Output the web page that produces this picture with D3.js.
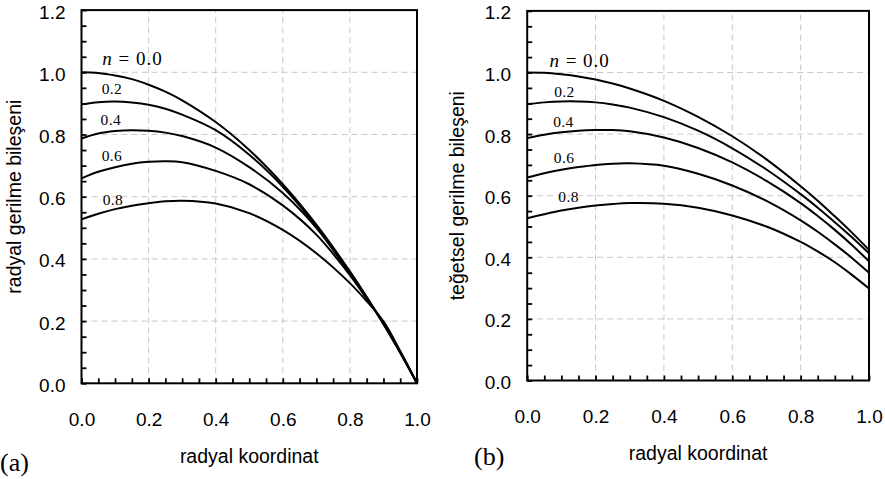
<!DOCTYPE html>
<html><head><meta charset="utf-8">
<script src="https://cdn.jsdelivr.net/npm/d3@7"></script>
<style>
html,body{margin:0;padding:0;background:#fff;}
svg{display:block;}
</style>
</head><body>
<svg id="chart" width="885" height="479"></svg>
<script>
// ---- data ----
const rValues = [0, 0.05, 0.1, 0.15, 0.2, 0.25, 0.3, 0.4, 0.5, 0.6, 0.7, 0.8, 0.85, 0.9, 0.95, 1.0];
const nLabels = ["0.0", "0.2", "0.4", "0.6", "0.8"];

const radialN00 = [1.000, 0.998, 0.990, 0.978, 0.960, 0.938, 0.910, 0.840, 0.750, 0.640, 0.510, 0.360, 0.278, 0.190, 0.098, 0.000];
const radialN02 = [0.897, 0.904, 0.906, 0.903, 0.896, 0.883, 0.864, 0.814, 0.735, 0.632, 0.505, 0.355, 0.276, 0.192, 0.099, 0.000];
const radialN04 = [0.787, 0.803, 0.811, 0.814, 0.812, 0.806, 0.795, 0.758, 0.695, 0.612, 0.500, 0.352, 0.274, 0.193, 0.100, 0.000];
const radialN06 = [0.659, 0.680, 0.695, 0.706, 0.712, 0.714, 0.711, 0.683, 0.640, 0.572, 0.478, 0.348, 0.272, 0.195, 0.101, 0.000];
const radialN08 = [0.527, 0.545, 0.560, 0.571, 0.579, 0.585, 0.587, 0.578, 0.547, 0.493, 0.418, 0.322, 0.264, 0.199, 0.104, 0.000];

const tangN00 = [1.000, 0.999, 0.994, 0.987, 0.977, 0.964, 0.948, 0.908, 0.856, 0.793, 0.718, 0.631, 0.584, 0.533, 0.480, 0.424];
const tangN02 = [0.897, 0.903, 0.906, 0.906, 0.903, 0.896, 0.886, 0.855, 0.811, 0.754, 0.685, 0.605, 0.561, 0.514, 0.465, 0.413];
const tangN04 = [0.787, 0.798, 0.806, 0.811, 0.813, 0.813, 0.809, 0.789, 0.755, 0.708, 0.648, 0.576, 0.534, 0.489, 0.440, 0.387];
const tangN06 = [0.659, 0.673, 0.684, 0.693, 0.700, 0.704, 0.705, 0.697, 0.671, 0.633, 0.583, 0.520, 0.483, 0.442, 0.398, 0.350];
const tangN08 = [0.527, 0.540, 0.552, 0.561, 0.568, 0.573, 0.576, 0.574, 0.561, 0.536, 0.500, 0.450, 0.419, 0.384, 0.343, 0.299];

const xTickLabels = [0, 0.2, 0.4, 0.6, 0.8, 1.0];
const yTickLabels = [0, 0.2, 0.4, 0.6, 0.8, 1.0, 1.2];
const gridX = [0.2, 0.4, 0.6, 0.8];
const gridY = [0.2, 0.4, 0.6, 0.8, 1.0];

// curve label anchors (data units: r, value)
const radialLabelPos = [[0.062, 1.023], [0.060, 0.929], [0.057, 0.829], [0.060, 0.716], [0.063, 0.573]];
const tangLabelPos   = [[0.065, 1.019], [0.079, 0.921], [0.076, 0.824], [0.078, 0.707], [0.091, 0.579]];

const panels = [
  { series: [radialN00, radialN02, radialN04, radialN06, radialN08], labelPos: radialLabelPos,
    x0: 81.5, x1: 417, y0: 383.3, y1: 10.1, yTitle: "radyal gerilme bileşeni", yTitleX: 21,
    xTitle: "radyal koordinat", xTitleY: 463, tag: "(a)", tagX: 0, tagY: 471 },
  { series: [tangN00, tangN02, tangN04, tangN06, tangN08], labelPos: tangLabelPos,
    x0: 527.2, x1: 869, y0: 380.5, y1: 10.9, yTitle: "teğetsel gerilme bileşeni", yTitleX: 464,
    xTitle: "radyal koordinat", xTitleY: 460, tag: "(b)", tagX: 474, tagY: 465 }
];

const svg = d3.select("#chart");
const minorTicks = d3.range(0, 1.2001, 0.05);
const minorTicksX = d3.range(0, 1.0001, 0.05);

panels.forEach(p => {
  const x = d3.scaleLinear().domain([0, 1]).range([p.x0, p.x1]);
  const y = d3.scaleLinear().domain([0, 1.2]).range([p.y0, p.y1]);
  const g = svg.append("g");

  // grid
  g.selectAll(".gx").data(gridX).join("line")
    .attr("x1", d => x(d)).attr("x2", d => x(d)).attr("y1", y(0)).attr("y2", y(1.2))
    .attr("stroke", "#c8c8c8").attr("stroke-width", 1).attr("stroke-dasharray", "6,4");
  g.selectAll(".gy").data(gridY).join("line")
    .attr("x1", x(0)).attr("x2", x(1)).attr("y1", d => y(d)).attr("y2", d => y(d))
    .attr("stroke", "#c8c8c8").attr("stroke-width", 1).attr("stroke-dasharray", "6,4");

  // curves
  const line = d3.line().x((d, i) => x(rValues[i])).y(d => y(d)).curve(d3.curveCatmullRom.alpha(0.5));
  p.series.forEach(s => {
    g.append("path").attr("d", line(s)).attr("fill", "none").attr("stroke", "#000").attr("stroke-width", 2);
  });

  // minor ticks (inward)
  const ayTicks = g.append("g").attr("transform", `translate(${x(0)},0)`)
    .call(d3.axisLeft(y).tickValues(minorTicks).tickSize(-5).tickFormat(""));
  const axTicks = g.append("g").attr("transform", `translate(0,${y(0)})`)
    .call(d3.axisBottom(x).tickValues(minorTicksX).tickSize(-5).tickFormat(""));
  [ayTicks, axTicks].forEach(a => {
    a.select(".domain").remove();
    a.selectAll("line").attr("stroke", "#000").attr("stroke-width", 1.8);
  });

  // tick labels
  const ayLab = g.append("g").attr("transform", `translate(${x(0)},0)`)
    .call(d3.axisLeft(y).tickValues(yTickLabels).tickSize(0).tickPadding(16).tickFormat(d3.format(".1f")));
  ayLab.select(".domain").remove();
  ayLab.selectAll("text").attr("font-family", "'Liberation Sans', Arial, sans-serif").attr("font-size", 19)
    .attr("fill", "#000").attr("dy", "0.42em");
  const axLab = g.append("g").attr("transform", `translate(0,${y(0)})`)
    .call(d3.axisBottom(x).tickValues(xTickLabels).tickSize(0).tickPadding(0).tickFormat(d3.format(".1f")));
  axLab.select(".domain").remove();
  axLab.selectAll("text").attr("font-family", "'Liberation Sans', Arial, sans-serif").attr("font-size", 19)
    .attr("fill", "#000").attr("dy", 0).attr("y", 42.5);

  // frame
  g.append("rect").attr("x", x(0)).attr("y", y(1.2)).attr("width", x(1) - x(0)).attr("height", y(0) - y(1.2))
    .attr("fill", "none").attr("stroke", "#000").attr("stroke-width", 2);

  // curve labels
  p.labelPos.forEach((pos, i) => {
    const t = g.append("text").attr("x", x(pos[0])).attr("y", y(pos[1]))
      .attr("font-family", "'Liberation Serif', 'Times New Roman', serif").attr("fill", "#000");
    if (i === 0) {
      t.attr("font-size", 19).attr("letter-spacing", 1);
      t.append("tspan").attr("font-style", "italic").text("n");
      t.append("tspan").text(" = " + nLabels[i]);
    } else {
      t.attr("font-size", 15.5).attr("letter-spacing", 0.4).text(nLabels[i]);
    }
  });

  // axis titles
  g.append("text").attr("x", (x(0) + x(1)) / 2).attr("y", p.xTitleY).attr("text-anchor", "middle")
    .attr("font-family", "'Liberation Sans', Arial, sans-serif").attr("font-size", 19.5).text(p.xTitle);
  g.append("text").attr("transform", `translate(${p.yTitleX},${(y(0) + y(1.2)) / 2}) rotate(-90)`)
    .attr("text-anchor", "middle")
    .attr("font-family", "'Liberation Sans', Arial, sans-serif").attr("font-size", 19.5).text(p.yTitle);

  // panel tag
  g.append("text").attr("x", p.tagX).attr("y", p.tagY)
    .attr("font-family", "'Liberation Serif', 'Times New Roman', serif").attr("font-size", 26).text(p.tag);
});
</script>
</body></html>
